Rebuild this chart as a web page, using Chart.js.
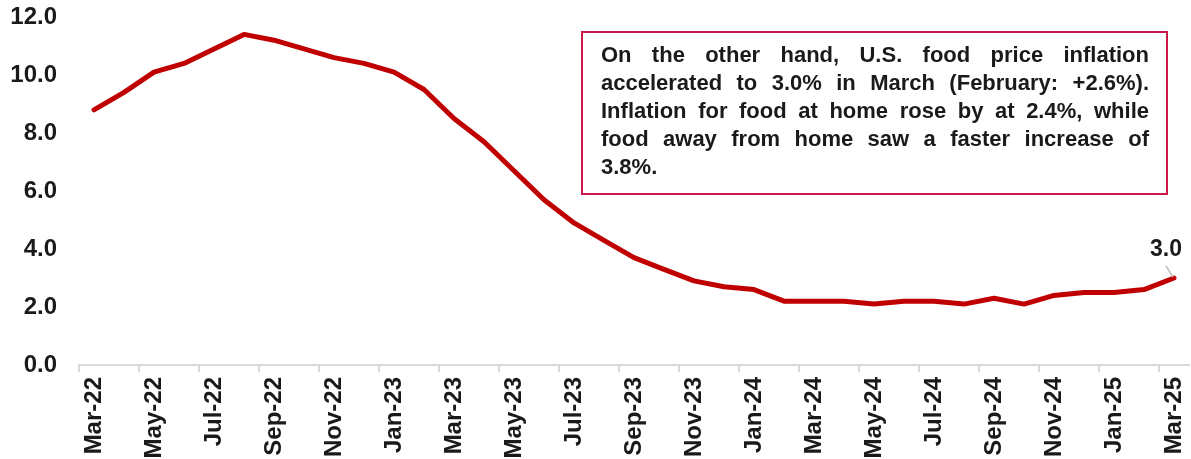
<!DOCTYPE html>
<html>
<head>
<meta charset="utf-8">
<script src="https://cdn.jsdelivr.net/npm/chart.js@4"></script>
<style>
    body { margin: 0; background: #fff; }
    #wrap { position: relative; width: 1191px; height: 459px; }
    #note {
        position: absolute;
        left: 581px; top: 31px;
        width: 587px; height: 164px;
        box-sizing: border-box;
        border: 2px solid #c8174a;
        padding: 8px 17px 0 18px;
        font-family: Arial, "Liberation Sans", sans-serif;
        font-weight: bold;
        font-size: 22px;
        line-height: 28px;
        color: #1a1a1a;
    }
    #note span { display: block; text-align: justify; text-align-last: justify; }
    #note span.last { text-align-last: left; }
</style>
</head>
<body>
<div id="wrap">
    <canvas id="chart" width="1191" height="459"></canvas>
    <div id="note">
        <span>On the other hand, U.S. food price inflation</span>
        <span>accelerated to 3.0% in March (February: +2.6%).</span>
        <span>Inflation for food at home rose by at 2.4%, while</span>
        <span>food away from home saw a faster increase of</span>
        <span class="last">3.8%.</span>
    </div>
</div>
<script>
// Data
const months = [
    'Mar-22', 'Apr-22', 'May-22', 'Jun-22', 'Jul-22', 'Aug-22', 'Sep-22', 'Oct-22', 'Nov-22', 'Dec-22',
    'Jan-23', 'Feb-23', 'Mar-23', 'Apr-23', 'May-23', 'Jun-23', 'Jul-23', 'Aug-23', 'Sep-23', 'Oct-23',
    'Nov-23', 'Dec-23', 'Jan-24', 'Feb-24', 'Mar-24', 'Apr-24', 'May-24', 'Jun-24', 'Jul-24', 'Aug-24',
    'Sep-24', 'Oct-24', 'Nov-24', 'Dec-24', 'Jan-25', 'Feb-25', 'Mar-25'
];
const foodInflation = [
    8.8, 9.4, 10.1, 10.4, 10.9, 11.4, 11.2, 10.9, 10.6, 10.4,
    10.1, 9.5, 8.5, 7.7, 6.7, 5.7, 4.9, 4.3, 3.7, 3.3,
    2.9, 2.7, 2.6, 2.2, 2.2, 2.2, 2.1, 2.2, 2.2, 2.1,
    2.3, 2.1, 2.4, 2.5, 2.5, 2.6, 3.0
];
const yTicks = [0, 2, 4, 6, 8, 10, 12];

const FONT = 'Arial, "Liberation Sans", sans-serif';

// Label on the last point with a small leader line
const lastLabel = {
    id: 'lastLabel',
    afterDatasetsDraw(chart) {
        const meta = chart.getDatasetMeta(0);
        const i = foodInflation.length - 1;
        const pt = meta.data[i];
        const ctx = chart.ctx;
        ctx.save();
        ctx.strokeStyle = '#bfbfbf';
        ctx.lineWidth = 1.5;
        ctx.beginPath();
        ctx.moveTo(pt.x - 8, pt.y - 12);
        ctx.lineTo(pt.x - 1, pt.y - 1);
        ctx.stroke();
        ctx.fillStyle = '#1a1a1a';
        ctx.font = 'bold 23px ' + FONT;
        ctx.textAlign = 'center';
        ctx.textBaseline = 'alphabetic';
        ctx.fillText(foodInflation[i].toFixed(1), pt.x - 8, pt.y - 22);
        ctx.restore();
    }
};

const chart = new Chart(document.getElementById('chart'), {
    type: 'line',
    data: {
        labels: months,
        datasets: [{
            data: foodInflation,
            borderColor: '#c00000',
            borderWidth: 5,
            borderCapStyle: 'round',
            borderJoinStyle: 'round',
            pointRadius: 0,
            tension: 0
        }]
    },
    options: {
        responsive: false,
        animation: false,
        layout: { padding: { top: 17, right: 2, left: 0, bottom: 0 } },
        plugins: {
            legend: { display: false },
            tooltip: { enabled: false }
        },
        scales: {
            x: {
                offset: true,
                grid: {
                    offset: true,
                    drawOnChartArea: false,
                    tickLength: 7,
                    lineWidth: 2,
                    color: ctx => ctx.index % 2 === 0 ? '#d9d9d9' : 'rgba(0,0,0,0)'
                },
                border: { color: '#d9d9d9', width: 2 },
                ticks: {
                    autoSkip: false,
                    minRotation: 90,
                    maxRotation: 90,
                    padding: 5,
                    color: '#1a1a1a',
                    font: { family: FONT, size: 24, weight: 'bold' },
                    callback(value, index) {
                        return index % 2 === 0 ? this.getLabelForValue(value) : '';
                    }
                },
                afterFit(scale) {
                    scale.height = 94;
                    scale.paddingLeft = 0;
                    scale.paddingRight = 0;
                }
            },
            y: {
                min: 0,
                max: 12,
                afterBuildTicks(scale) { scale.ticks = yTicks.map(v => ({ value: v })); },
                grid: { display: false, drawTicks: false },
                border: { display: false },
                ticks: {
                    padding: 22,
                    color: '#1a1a1a',
                    font: { family: FONT, size: 24, weight: 'bold' },
                    callback: v => v.toFixed(1)
                },
                afterFit(scale) {
                    scale.width = 79;
                    scale.paddingTop = 0;
                    scale.paddingBottom = 0;
                }
            }
        }
    },
    plugins: [lastLabel]
});
</script>
</body>
</html>
